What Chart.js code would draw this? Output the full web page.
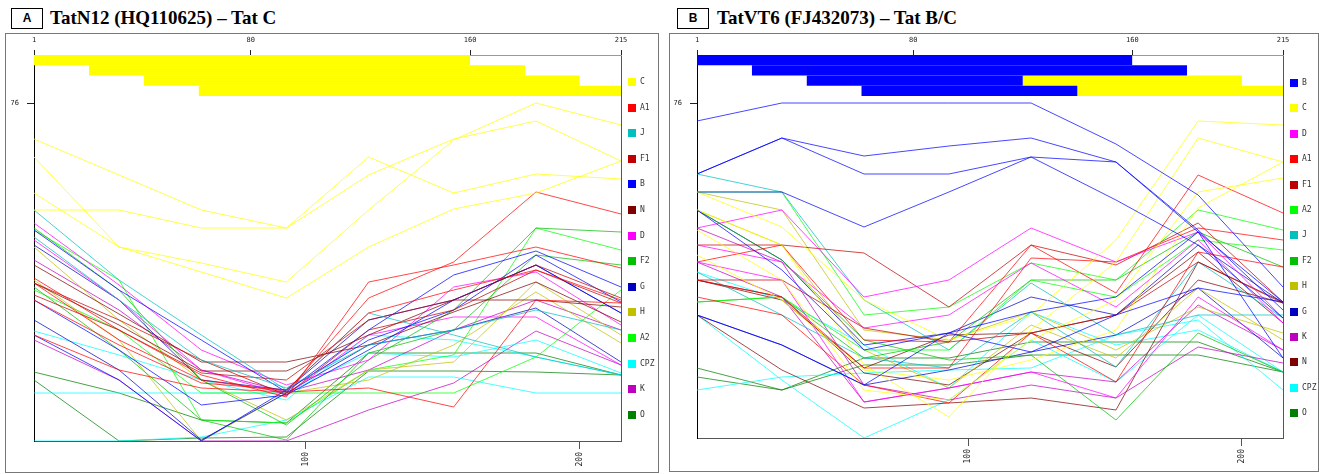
<!DOCTYPE html>
<html>
<head>
<meta charset="utf-8">
<title>RIP Tat</title>
<script src="https://cdn.jsdelivr.net/npm/chart.js@4.4.1/dist/chart.umd.min.js"></script>
<style>
  html,body{margin:0;padding:0;background:#fff}
  body{position:relative;width:1319px;height:474px;overflow:hidden}
  .tag{position:absolute;top:8px;width:30px;height:19px;border:1px solid #000;font:bold 12px "Liberation Sans",Arial,sans-serif;line-height:19px;text-align:center}
  .ttl{position:absolute;top:8px;font:bold 19px/19px "Liberation Serif","Times New Roman",serif;white-space:nowrap}
  .frame{position:absolute;top:33px;border:1px solid #777;box-sizing:border-box}
  canvas{position:absolute}
  .lg{position:absolute;font:8px/8px "DejaVu Sans Mono",monospace;color:#333;white-space:nowrap}
  .lg i{display:inline-block;width:8px;height:8px;margin-right:4px;vertical-align:top}
</style>
</head>
<body>
<div class="tag" style="left:11px">A</div>
<div class="ttl" style="left:50px">TatN12 (HQ110625) – Tat C</div>
<div class="tag" style="left:677px">B</div>
<div class="ttl" style="left:717px">TatVT6 (FJ432073) – Tat B/C</div>
<div class="frame" style="left:5px;width:654px;height:440px"></div>
<div class="frame" style="left:669px;width:650px;height:439px"></div>
<canvas id="chartA" width="652" height="437" style="left:6px;top:34px"></canvas>
<canvas id="chartB" width="648" height="436" style="left:670px;top:34px"></canvas>
<script>
/* window positions along the Tat alignment */
const POS = [1, 32, 62, 93, 123, 154, 184, 215];
const TOP_TICKS = [1, 80, 160, 215];
const BOTTOM_TICKS = [100, 200];
const Y_TICKS = [76];

/* ---------- panel A : TatN12 ---------- */
const A_LEGEND = ['C','A1','J','F1','B','N','D','F2','G','H','A2','CPZ','K','O'];
const A_BEST_C = [[1,160],[21,180],[41,200],[61,215]];

const A_C1=[72.4,68.8,65.3,63.5,68.8,72.4,74.2,70.2];
const A_C2=[65.3,65.3,63.5,63.5,70.6,67.0,68.9,68.4];
const A_C3=[70.6,61.6,60.0,58.1,65.3,72.3,76.0,73.8];
const A_C4=[67.0,61.6,59.1,56.5,61.6,65.4,67.0,70.2];
const A_A1a=[58.0,52.3,48.3,47.1,56.5,60.1,67.1,64.9];
const A_A1b=[58.5,53.3,48.8,46.6,58.1,59.8,61.6,59.5];
const A_A1c=[56.3,51.8,48.0,47.3,55.0,57.3,59.3,56.3];
const A_A1d=[52.8,49.3,47.5,47.1,47.5,45.6,56.3,56.0];
const A_J1=[65.3,58.3,52.8,47.3,55.0,52.8,50.6,48.8];
const A_J2=[62.6,56.3,50.3,47.5,51.8,53.3,55.3,53.3];
const A_F1a=[58.0,54.3,50.3,46.8,53.3,55.3,59.3,56.0];
const A_F1b=[56.8,53.3,49.0,48.3,54.3,56.3,59.8,56.5];
const A_B1=[63.3,57.3,52.3,47.1,53.3,58.8,61.2,57.6];
const A_B2=[56.3,51.3,45.8,46.8,51.3,56.3,59.8,55.0];
const A_B3=[52.8,48.3,42.2,47.3,52.3,55.3,60.8,56.1];
const A_N1=[59.8,54.9,50.1,50.1,51.8,55.1,58.1,54.1];
const A_N2=[58.0,53.8,49.2,49.2,52.8,56.3,56.3,55.6];
const A_D1=[64.0,57.8,51.3,47.8,50.3,57.6,59.1,53.8];
const A_D2=[62.3,56.3,49.3,46.8,52.8,54.6,54.6,49.8];
const A_F2a=[63.5,57.3,48.3,43.8,50.3,55.3,63.5,63.1];
const A_F2b=[57.6,51.3,44.3,42.3,51.0,53.3,60.8,59.8];
const A_G1=[61.8,56.3,48.3,47.3,54.3,56.3,59.8,55.0];
const A_G2=[54.3,49.3,42.3,47.0,51.8,53.3,55.5,50.1];
const A_H1=[61.6,54.3,48.3,44.3,49.3,50.1,58.1,52.8];
const A_H2=[58.3,52.3,42.2,47.0,48.3,51.8,57.1,52.0];
const A_A2a=[63.3,58.3,44.3,44.0,49.3,50.8,63.5,61.3];
const A_A2b=[57.3,53.3,47.0,47.0,47.0,47.0,50.6,57.3];
const A_CPZ1=[47.0,47.0,47.0,47.0,51.0,50.6,52.3,49.0];
const A_CPZ2=[42.2,42.2,42.6,44.3,48.6,48.6,47.0,47.0];
const A_CPZ3=[53.2,50.8,48.3,46.3,52.8,52.3,50.6,48.8];
const A_K1=[52.3,48.3,42.2,42.2,45.3,48.0,53.2,49.8];
const A_K2=[60.3,55.3,49.3,47.1,49.3,53.3,56.3,53.3];
const A_O1=[49.1,47.0,44.3,44.0,51.0,51.0,51.0,48.8];
const A_O2=[48.3,42.2,42.5,42.6,49.2,49.2,49.1,48.8];

/* ---------- panel B : TatVT6 ---------- */
const B_LEGEND = ['B','C','D','A1','F1','A2','J','F2','H','G','K','N','CPZ','O'];
const B_BEST_B = [[1,160],[21,180],[41,120],[61,140]];
const B_BEST_C = [null,null,[120,200],[140,215]];

const B_B1=[74.2,76.0,76.0,76.0,76.0,71.9,66.8,57.6];
const B_B2=[68.9,72.5,70.7,71.7,72.5,70.1,63.1,56.1];
const B_B3=[68.9,72.5,68.9,68.9,70.6,66.3,61.8,54.5];
const B_B4=[67.1,67.1,63.6,67.1,70.6,70.1,63.3,55.3];
const B_B5=[54.8,51.8,47.8,53.0,55.1,56.6,63.1,50.5];
const B_B6=[65.3,59.3,51.3,53.0,51.1,54.8,57.5,56.1];
const B_C1=[67.1,63.6,56.3,52.3,54.8,62.3,74.2,73.8];
const B_C2=[65.3,61.8,49.8,44.6,53.3,60.1,72.5,70.1];
const B_C3=[63.3,58.3,47.3,46.3,52.3,56.3,67.1,68.5];
const B_C4=[60.8,56.3,49.3,48.3,50.3,53.3,65.5,70.1];
const B_D1=[63.5,65.3,56.6,58.3,63.5,60.1,63.1,54.5];
const B_D2=[61.8,60.1,53.5,54.8,60.0,55.6,62.3,54.0];
const B_D3=[60.1,58.3,46.1,47.5,49.1,46.5,56.6,51.3];
const B_A1a=[60.1,61.8,52.3,52.1,61.8,57.0,68.8,65.0];
const B_A1b=[58.3,56.6,49.5,49.5,60.5,60.1,63.5,62.3];
const B_A1c=[56.6,54.8,47.8,46.0,53.0,48.1,61.1,59.6];
const B_F1a=[58.3,58.3,53.5,52.1,53.0,54.8,60.1,56.0];
const B_F1b=[61.8,61.8,61.0,55.6,61.8,59.8,64.0,56.1];
const B_A2a=[67.1,67.1,54.8,55.6,60.0,58.3,65.3,63.3];
const B_A2b=[56.1,56.6,51.3,51.3,58.3,56.6,62.3,61.3];
const B_J1=[68.9,67.1,56.3,51.3,58.0,52.8,54.8,54.8];
const B_J2=[59.1,54.8,50.5,49.5,55.1,49.6,60.1,54.5];
const B_F2a=[56.1,56.6,50.5,52.1,58.3,58.3,63.1,59.6];
const B_F2b=[65.3,60.3,52.3,50.3,50.8,44.3,53.0,49.1];
const B_H1=[67.1,65.3,53.3,52.3,55.1,51.3,55.6,53.0];
const B_H2=[65.3,61.8,51.3,47.5,53.8,50.5,57.5,52.3];
const B_G1=[65.3,60.3,51.8,53.0,56.6,54.8,61.8,56.0];
const B_G2=[54.8,51.8,47.8,49.3,51.1,52.8,57.5,50.5];
const B_K1=[63.5,60.1,47.8,46.3,47.8,46.5,51.6,50.0];
const B_K2=[60.1,56.6,46.1,47.5,49.1,48.1,55.8,51.3];
const B_N1=[58.3,56.6,49.0,47.8,53.0,49.6,58.3,56.0];
const B_N2=[54.8,49.3,45.5,46.0,46.5,45.3,60.1,56.1];
const B_N3=[58.3,56.3,49.5,52.8,53.0,54.8,61.1,54.0];
const B_CPZ1=[47.3,48.6,49.0,49.3,49.5,52.8,54.3,47.3];
const B_CPZ2=[54.8,48.3,42.5,46.3,52.3,48.1,54.8,49.1];
const B_CPZ3=[59.1,56.3,51.8,47.5,55.1,51.8,53.3,49.1];
const B_O1=[49.5,47.3,50.5,50.5,52.1,52.1,52.1,49.1];
const B_O2=[48.6,47.3,49.8,49.8,50.8,50.8,50.8,49.1];

const A_LINES=[['C',A_C1],['C',A_C2],['C',A_C3],['C',A_C4],['A1',A_A1a],['A1',A_A1b],['A1',A_A1c],['A1',A_A1d],
  ['J',A_J1],['J',A_J2],['F1',A_F1a],['F1',A_F1b],['B',A_B1],['B',A_B2],['B',A_B3],['N',A_N1],['N',A_N2],
  ['D',A_D1],['D',A_D2],['F2',A_F2a],['F2',A_F2b],['G',A_G1],['G',A_G2],['H',A_H1],['H',A_H2],['A2',A_A2a],['A2',A_A2b],
  ['CPZ',A_CPZ1],['CPZ',A_CPZ2],['CPZ',A_CPZ3],['K',A_K1],['K',A_K2],['O',A_O1],['O',A_O2]];
const B_LINES=[['B',B_B1],['B',B_B2],['B',B_B3],['B',B_B4],['B',B_B5],['B',B_B6],['C',B_C1],['C',B_C2],['C',B_C3],['C',B_C4],
  ['D',B_D1],['D',B_D2],['D',B_D3],['A1',B_A1a],['A1',B_A1b],['A1',B_A1c],['F1',B_F1a],['F1',B_F1b],['A2',B_A2a],['A2',B_A2b],
  ['J',B_J1],['J',B_J2],['F2',B_F2a],['F2',B_F2b],['H',B_H1],['H',B_H2],['G',B_G1],['G',B_G2],['K',B_K1],['K',B_K2],
  ['N',B_N1],['N',B_N2],['N',B_N3],['CPZ',B_CPZ1],['CPZ',B_CPZ2],['CPZ',B_CPZ3],['O',B_O1],['O',B_O2]];

const COL={C:'#ffff00',A1:'#ff0000',J:'#00bfbf',F1:'#c00000',B:'#0000ff',N:'#800000',D:'#ff00ff',F2:'#00c000',
  G:'#0000c0',H:'#c0c000',A2:'#00ff00',CPZ:'#00ffff',K:'#c000c0',O:'#008000'};

function fade(hex,a){var n=parseInt(hex.slice(1),16);return 'rgba('+(n>>16)+','+((n>>8)&255)+','+(n&255)+','+a+')';}

Chart.defaults.font.family='"DejaVu Sans Mono",monospace';
Chart.defaults.font.size=7;
Chart.defaults.color='#222';

function mkLegend(names,lay){
  names.forEach(function(n,i){
    var d=document.createElement('div');d.className='lg';
    d.style.left=lay.lgX+'px';d.style.top=(lay.lgY+i*lay.lgStep-4)+'px';
    d.innerHTML='<i style="background:'+COL[n]+'"></i>'+n;
    document.body.appendChild(d);
  });
}

function mkPanel(id,lay,legend,lines,bars){
  var ds=[];
  bars.forEach(function(b){
    b[1].forEach(function(r,i){
      if(!r) return;
      ds.push({xAxisID:'x',yAxisID:'yb',data:[{x:r[0],y:i},{x:r[1],y:i}],fill:{value:i+1},
        backgroundColor:COL[b[0]],borderColor:'rgba(0,0,0,0)',borderWidth:0,pointRadius:0});
    });
  });
  lines.forEach(function(l){
    ds.push({xAxisID:'x',yAxisID:'y',data:l[1].map(function(v,i){return {x:POS[i],y:v};}),
      borderColor:fade(COL[l[0]],0.72),borderWidth:1,pointRadius:0,fill:false,tension:0});
  });
  var tk=function(arr){return function(s){s.ticks=arr.map(function(v){return {value:v};});};};
  new Chart(document.getElementById(id),{type:'line',data:{datasets:ds},options:{
    responsive:false,animation:false,events:[],
    layout:{padding:{left:0,top:0,bottom:0,right:lay.padR}},
    plugins:{legend:{display:false},tooltip:{enabled:false}},
    scales:{
      xt:{type:'linear',position:'top',min:1,max:215,afterBuildTicks:tk(TOP_TICKS),afterFit:function(s){s.height=lay.xtH;},
        ticks:{autoSkip:false,maxRotation:0,padding:6},
        grid:{drawOnChartArea:true,color:function(c){return c.tick&&c.tick.value===215?'#555':'rgba(0,0,0,0)';},tickColor:'#222',tickLength:5},
        border:{color:'#999'}},
      x:{type:'linear',position:'bottom',min:1,max:215,afterBuildTicks:tk(BOTTOM_TICKS),afterFit:function(s){s.height=lay.xH;},
        ticks:{autoSkip:false,minRotation:90,maxRotation:90,padding:3,font:{size:8}},
        grid:{drawOnChartArea:false,tickColor:'#555',tickLength:8},
        border:{color:'#555'}},
      yb:{type:'linear',position:'left',stack:'p',stackWeight:lay.barH,weight:1,min:0,max:4,reverse:true,
        afterFit:function(s){s.width=lay.yW;},ticks:{display:false},
        grid:{drawOnChartArea:false,drawTicks:false},border:{color:'#000'}},
      y:{type:'linear',position:'left',stack:'p',stackWeight:lay.plotH,weight:0,min:lay.yMin,max:76.7,
        afterBuildTicks:tk(Y_TICKS),afterFit:function(s){s.width=lay.yW;},
        ticks:{padding:8},grid:{drawOnChartArea:false,tickColor:'#222',tickLength:7},border:{color:'#000'}}
    }
  }});
  mkLegend(legend,lay);
}

mkPanel('chartA',{padR:37,xtH:21,xH:30,yW:28,barH:41,plotH:345,yMin:42.2,lgX:628,lgY:82,lgStep:25.6},
  A_LEGEND,A_LINES,[['C',A_BEST_C]]);
mkPanel('chartB',{padR:35,xtH:21,xH:32,yW:27,barH:41,plotH:342,yMin:42.5,lgX:1290,lgY:83,lgStep:25.4},
  B_LEGEND,B_LINES,[['B',B_BEST_B],['C',B_BEST_C]]);
</script>
</body>
</html>
